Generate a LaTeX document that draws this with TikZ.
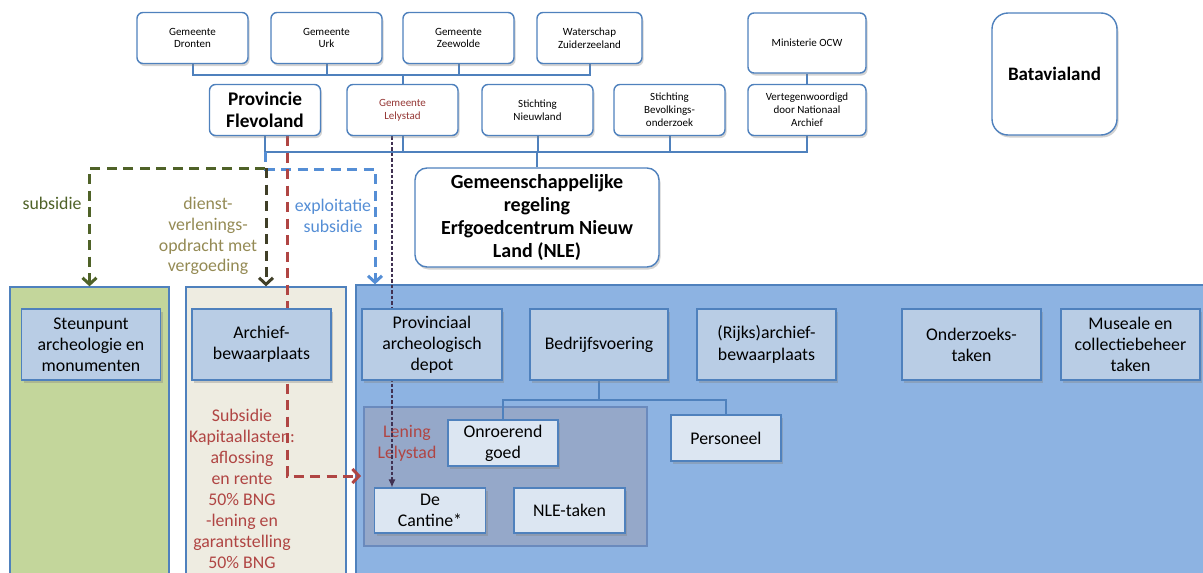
\documentclass[tikz,border=0pt]{standalone}
\usepackage{fontspec}
\setmainfont{Carlito}
\usetikzlibrary{positioning,arrows.meta,shadows,calc}

\definecolor{nleblue}{HTML}{4F81BD}
\definecolor{zonegreen}{HTML}{C3D69B}
\definecolor{zonebeige}{HTML}{EEECE1}
\definecolor{zoneblue}{HTML}{8DB3E2}
\definecolor{unitfill}{HTML}{B9CDE5}
\definecolor{subfill}{HTML}{DCE6F2}
\definecolor{groupfill}{HTML}{95A8C9}
\definecolor{groupline}{HTML}{6A8ABD}
\definecolor{subgreen}{HTML}{4F6228}
\definecolor{diensttext}{HTML}{948A54}
\definecolor{dienstline}{HTML}{403F28}
\definecolor{expblue}{HTML}{558ED5}
\definecolor{leenred}{HTML}{B04543}
\definecolor{lelyred}{HTML}{953735}
\definecolor{lendpurple}{HTML}{403152}

\pgfdeclarelayer{zones}
\pgfdeclarelayer{flows}
\pgfsetlayers{zones,flows,main}

\begin{document}
\begin{tikzpicture}[
x=1pt, y=-1pt,
orgbox/.style={
  draw=nleblue,
  line width=1.4pt,
  fill=white,
  rounded corners=6pt,
  align=center,
  inner sep=2pt,
  font=\fontsize{11}{12.8}\selectfont,
  minimum width=111pt,
  minimum height=51pt,
  drop shadow={shadow xshift=1.5pt, shadow yshift=-2.5pt, opacity=.35}
  },
unit/.style={
  draw=nleblue,
  line width=1.3pt,
  fill=unitfill,
  align=center,
  inner sep=2pt,
  font=\fontsize{17.8}{21.2}\selectfont,
  minimum width=139pt,
  minimum height=71pt,
  drop shadow={shadow xshift=2pt, shadow yshift=-3pt, opacity=.35}
  },
subunit/.style={
  unit,
  fill=subfill,
  minimum width=111pt,
  minimum height=46pt
  },
zone/.style={
  draw=nleblue,
  line width=1.3pt,
  inner sep=0pt,
  minimum height=295pt
  },
link/.style={draw=nleblue, line width=2pt},
flow/.style={
  line width=3pt,
  dash pattern=on 10pt off 6.5pt,
  -{Straight Barb[length=6.5pt,width=14pt]}
  },
lendline/.style={
  draw=lendpurple,
  line width=1.1pt,
  dash pattern=on 3.5pt off 2pt,
  -{Latex[length=8pt,width=7pt]}
  },
label/.style={align=center, font=\fontsize{17.8}{20.8}\selectfont}
]
\useasboundingbox (0,0) rectangle (1203,573);

% betrokken partijen
\node[orgbox] (dronten) at (192.5,38) {Gemeente\\Dronten};
\node[orgbox] (urk) at (326.5,38) {Gemeente\\Urk};
\node[orgbox] (zeewolde) at (458.5,38) {Gemeente\\Zeewolde};
\node[orgbox, minimum width=105pt] (waterschap) at (589.5,38) {Waterschap\\Zuiderzeeland};
\node[orgbox, minimum width=118pt, minimum height=60pt] (ocw) at (807,43) {Ministerie OCW};

\node[orgbox, font=\bfseries\fontsize{19.3}{22}\selectfont] (provincie) at (265,110) {Provincie\\Flevoland};
\node[orgbox, text=lelyred] (lelystad) at (402.5,110) {Gemeente\\Lelystad};
\node[orgbox] (nieuwland) at (537.5,110) {Stichting\\Nieuwland};
\node[orgbox] (bevolking) at (669.5,110) {Stichting\\Bevolkings-\\onderzoek};
\node[orgbox, minimum width=118pt] (vertegenw) at (807,110) {Vertegenwoordigd\\door Nationaal\\Archief};

\node[orgbox, rounded corners=12pt, minimum width=244pt, minimum height=99pt,
  font=\bfseries\fontsize{20}{22.8}\selectfont] (nle) at (537,217.5)
  {Gemeenschappelijke\\regeling\\Erfgoedcentrum Nieuw\\Land (NLE)};
\node[orgbox, rounded corners=16pt, minimum width=125pt, minimum height=122pt,
  font=\bfseries\fontsize{19}{22}\selectfont] (batavia) at (1054.5,74) {Batavialand};

% organisatie-onderdelen
\begin{pgfonlayer}{zones}
\node[zone, fill=zonegreen, minimum width=159pt] (greenzone) at (89.5,434.5) {};
\node[zone, fill=zonebeige, minimum width=160pt] (beigezone) at (266,434.5) {};
\node[zone, fill=zoneblue, minimum width=854pt] (bluezone) at (783,432.5) {};
\node[draw=groupline, fill=groupfill, line width=1.3pt, minimum width=283pt,
  minimum height=139pt] (group) at (505.5,476.5) {};
\node[label, text=leenred] (lening) at (407,443) {Lening\\Lelystad};
\end{pgfonlayer}

\node[unit] (steunpunt) at (91,344.5) {Steunpunt\\archeologie en\\monumenten};
\node[unit] (archief) at (261.5,344.5) {Archief-\\bewaarplaats};
\node[unit, minimum width=140pt] (depot) at (432,344.5) {Provinciaal\\archeologisch\\depot};
\node[unit, minimum width=138pt] (bedrijf) at (599,344.5) {Bedrijfsvoering};
\node[unit] (rijks) at (766.5,344.5) {(Rijks)archief-\\bewaarplaats};
\node[unit] (onderzoek) at (971.5,344.5) {Onderzoeks-\\taken};
\node[unit] (museale) at (1130.5,344.5) {Museale en\\collectiebeheer\\taken};

\node[subunit, minimum width=110pt] (onroerend) at (503,443) {Onroerend\\goed};
\node[subunit, minimum width=110pt] (personeel) at (726,438) {Personeel};
\node[subunit, minimum height=45pt] (cantine) at (430,510.5) {De\\Cantine*};
\node[subunit, minimum height=45pt] (nletaken) at (569.5,510.5) {NLE-taken};

% geldstromen
\node[label, text=subgreen] (subsidielabel) at (52,203) {subsidie};
\node[label, text=diensttext] (dienstlabel) at (208,236) {dienst-\\verlenings-\\opdracht met\\vergoeding};
\node[label, text=expblue] (explabel) at (333,215.5) {exploitatie\\subsidie};
\node[label, text=leenred, font=\fontsize{17.8}{21.1}\selectfont] (kapitaal) at (242,489)
  {Subsidie\\Kapitaallasten:\\aflossing\\en rente\\50\% BNG\\-lening en\\garantstelling\\50\% BNG};

\coordinate (greenbend) at ($(provincie.south)+(0,32)$);
\coordinate (bluebend) at (375,169);
\coordinate (leningtip) at (361,476);
\coordinate (lendtop) at ([xshift=-10.5pt]lelystad.south);

\begin{pgfonlayer}{flows}
\foreach \g in {dronten,urk,zeewolde,waterschap}
  \draw[link] (\g.south) -- ++(0,11) -| (lelystad.north);
\foreach \g in {provincie,lelystad,nieuwland,bevolking,vertegenw}
  \draw[link] (\g.south) -- ++(0,16) -| (nle.north);
\draw[link] (ocw) -- (vertegenw);
\foreach \s in {onroerend,personeel}
  \draw[link] (bedrijf.south) -- ++(0,19) -| (\s.north);

\draw[flow, draw=subgreen] (greenbend) -| (greenzone.north);
\draw[flow, draw=expblue] ($(provincie.south)+(0,16)$) |- (bluebend) -- (bluebend |- bluezone.north);
\draw[flow, draw=dienstline] (beigezone.north |- greenbend) -- (beigezone.north);
\draw[flow, draw=leenred] ([xshift=22pt]provincie.south) |- (leningtip);
\draw[lendline] (lendtop) -- (lendtop |- cantine.north);
\end{pgfonlayer}

\end{tikzpicture}
\end{document}
